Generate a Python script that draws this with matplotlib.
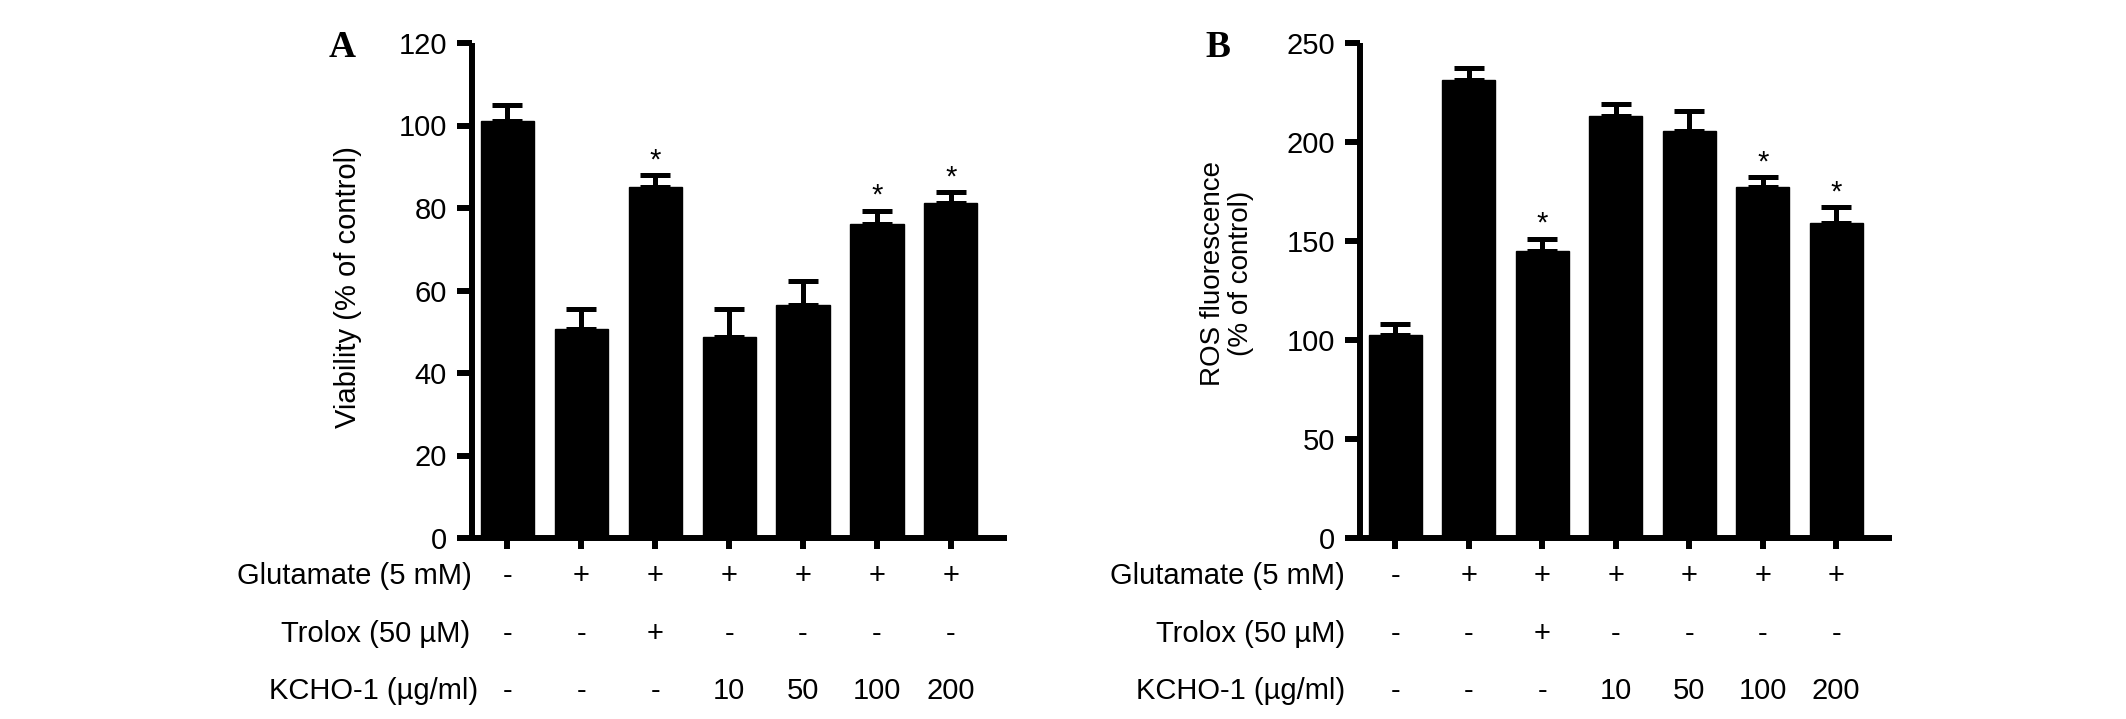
import matplotlib
matplotlib.use("Agg")
import matplotlib.pyplot as plt
from matplotlib.transforms import blended_transform_factory

# ---------------- data ----------------
groups = list(range(7))
viability_mean = [101.1, 50.7, 85.2, 48.7, 56.5, 76.1, 81.1]
viability_err = [3.9, 4.9, 2.7, 6.9, 5.8, 3.2, 2.7]
ros_mean = [102.3, 231.2, 145.0, 213.2, 205.6, 177.4, 159.2]
ros_err = [6.0, 6.0, 6.2, 5.9, 10.1, 4.9, 7.8]
viability_sig = [2, 5, 6]
ros_sig = [2, 5, 6]

row_names = ['Glutamate (5 mM)', 'Trolox (50 µM)', 'KCHO-1 (µg/ml)']
glutamate = ['-', '+', '+', '+', '+', '+', '+']
trolox = ['-', '-', '+', '-', '-', '-', '-']
kcho = ['-', '-', '-', '10', '50', '100', '200']
rows = [glutamate, trolox, kcho]

viability_ticks = [0, 20, 40, 60, 80, 100, 120]
ros_ticks = [0, 50, 100, 150, 200, 250]

# ---------------- figure ----------------
W, H = 2126, 719
DPI = 100
fig = plt.figure(figsize=(W / DPI, H / DPI), dpi=DPI)
plt.rcParams['font.family'] = ['Liberation Sans', 'DejaVu Sans']


def fx(px):
    return px / W


def fy(py):
    return 1 - py / H


LW = 4.3
top_px, bot_px = 43, 538


def make_panel(left_px, right_px, means, errs, sig, ticks, ymax,
               row_right_px, letter, letter_x, ylabel, ylabel_x, ylabel_y, ylabel_fs):
    ax = fig.add_axes([fx(left_px), fy(bot_px), fx(right_px - left_px),
                       (bot_px - top_px) / H])
    ax.bar(groups, means, width=0.72, color='black', edgecolor='black',
           linewidth=1, zorder=2)
    ax.errorbar(groups, means, yerr=[[0] * len(errs), errs], fmt='none',
                ecolor='black', elinewidth=3.6, capsize=10.8, capthick=3.6,
                zorder=1)
    for i in sig:
        ax.annotate('*', xy=(i, means[i] + errs[i]), xytext=(0, 5),
                    textcoords='offset points', ha='center', va='baseline',
                    fontsize=21, zorder=3)
    ax.set_xlim(-0.48, 6.76)
    ax.set_ylim(0, ymax)
    ax.set_yticks(ticks)
    ax.set_yticklabels([str(t) for t in ticks])
    ax.set_xticks(groups)
    ax.set_xticklabels([])
    for s in ['top', 'right']:
        ax.spines[s].set_visible(False)
    for s in ['left', 'bottom']:
        ax.spines[s].set_linewidth(LW)
        ax.spines[s].set_capstyle('butt')
    ax.tick_params(axis='y', length=11, width=LW, labelsize=21, pad=7)
    ax.tick_params(axis='x', length=8, width=LW)
    ax.patch.set_visible(False)

    trans = blended_transform_factory(ax.transData, fig.transFigure)
    row_y = [576, 634, 691]
    for r, (name, vals) in enumerate(zip(row_names, rows)):
        fig.text(fx(row_right_px[r]), fy(row_y[r]), name, ha='right',
                 va='center', fontsize=21)
        for i, v in enumerate(vals):
            ax.text(i, fy(row_y[r]), v, transform=trans, ha='center',
                    va='center', fontsize=21)

    fig.text(fx(letter_x), fy(57), letter, ha='center', va='baseline',
             fontsize=27, fontweight='bold',
             family=['Liberation Serif', 'DejaVu Serif'])
    fig.text(fx(ylabel_x), fy(ylabel_y), ylabel, rotation=90, ha='center',
             va='center', fontsize=ylabel_fs, multialignment='center',
             linespacing=1.1)
    return ax


make_panel(472, 1007, viability_mean, viability_err, viability_sig,
           viability_ticks, 120, [472, 470, 478], 'A', 342,
           'Viability (% of control)', 348, 287, 21)
make_panel(1360, 1892, ros_mean, ros_err, ros_sig, ros_ticks, 250,
           [1345, 1345, 1345], 'B', 1218,
           'ROS fluorescence\n(% of control)', 1227, 273, 20)

fig.savefig('out.png', dpi=DPI, facecolor='white')
